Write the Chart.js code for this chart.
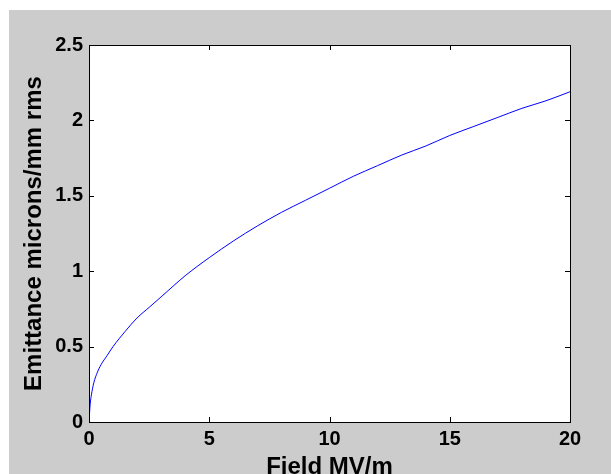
<!DOCTYPE html>
<html>
<head>
<meta charset="utf-8">
<script src="https://cdn.jsdelivr.net/npm/chart.js@4"></script>
<style>
    html, body { margin: 0; padding: 0; background: #ffffff; }
    #wrap { width: 611px; height: 474px; }
</style>
</head>
<body>
<div id="wrap"><canvas id="emittance-canvas" width="611" height="474"></canvas></div>
<script>
// field values (MV/m) and emittance
const field     = [0, 0.05, 0.1, 0.2, 0.35, 0.5, 0.75, 1, 1.5, 2, 2.5, 3, 4, 5, 6, 7, 8, 9, 10, 11, 12, 13, 14, 15, 16, 17, 18, 19, 20];
const emittance = [0, 0.12, 0.18, 0.26, 0.33, 0.38, 0.44, 0.50, 0.60, 0.69, 0.76, 0.83, 0.97, 1.09, 1.20, 1.30, 1.39, 1.47, 1.55, 1.63, 1.70, 1.77, 1.83, 1.90, 1.96, 2.02, 2.08, 2.13, 2.19];
const x_ticks   = [0, 5, 10, 15, 20];
const y_ticks   = [0, 0.5, 1, 1.5, 2, 2.5];

const points = field.map(function (f, i) { return { x: f, y: emittance[i] }; });

const tick_font  = { family: "'Liberation Sans', Arial, sans-serif", size: 20, weight: "bold" };
const title_font = { family: "'Liberation Sans', Arial, sans-serif", size: 24, weight: "bold", lineHeight: 1 };

// gray figure, white axes
const backgroundPlugin = {
    id: "matlabBackground",
    beforeDraw: function (chart) {
        const ctx = chart.ctx;
        const a = chart.chartArea;
        ctx.save();
        ctx.fillStyle = "#ffffff";
        ctx.fillRect(0, 0, chart.width, chart.height);
        ctx.fillStyle = "#cccccc";
        ctx.fillRect(9, 10, chart.width - 9, chart.height - 10);
        ctx.fillStyle = "#ffffff";
        ctx.fillRect(a.left, a.top, a.right - a.left, a.bottom - a.top);
        ctx.restore();
    }
};

// box and inward ticks on all four sides
const boxPlugin = {
    id: "matlabBox",
    afterDraw: function (chart) {
        const ctx = chart.ctx;
        const a = chart.chartArea;
        const xs = chart.scales.x;
        const ys = chart.scales.y;
        const len = 5;
        ctx.save();
        ctx.strokeStyle = "#000000";
        ctx.lineWidth = 1;
        ctx.beginPath();
        x_ticks.forEach(function (v) {
            const px = Math.round(xs.getPixelForValue(v)) + 0.5;
            ctx.moveTo(px, a.bottom); ctx.lineTo(px, a.bottom - len);
            ctx.moveTo(px, a.top); ctx.lineTo(px, a.top + len);
        });
        y_ticks.forEach(function (v) {
            const py = Math.round(ys.getPixelForValue(v)) + 0.5;
            ctx.moveTo(a.left, py); ctx.lineTo(a.left + len, py);
            ctx.moveTo(a.right, py); ctx.lineTo(a.right - len, py);
        });
        ctx.stroke();
        ctx.strokeRect(Math.round(a.left) + 0.5, Math.round(a.top) + 0.5,
            Math.round(a.right - a.left), Math.round(a.bottom - a.top));
        ctx.restore();
    }
};

function plainLabel(value) {
    return String(value);
}

const ctx = document.getElementById("emittance-canvas").getContext("2d");
const emittance_chart = new Chart(ctx, {
    type: "line",
    data: {
        datasets: [{
            data: points,
            borderColor: "#0000ff",
            borderWidth: 1,
            pointRadius: 0,
            fill: false,
            cubicInterpolationMode: "monotone"
        }]
    },
    options: {
        responsive: false,
        animation: false,
        plugins: { legend: { display: false }, tooltip: { enabled: false } },
        layout: { padding: { left: 0, top: 45, right: 41, bottom: 0 } },
        scales: {
            x: {
                type: "linear",
                min: 0,
                max: 20,
                afterBuildTicks: function (scale) { scale.ticks = x_ticks.map(function (v) { return { value: v }; }); },
                afterFit: function (scale) { scale.height = 52; },
                grid: { display: false, drawTicks: false },
                border: { display: false },
                ticks: { color: "#000000", font: tick_font, padding: 5, maxRotation: 0, callback: plainLabel },
                title: { display: true, text: "Field MV/m", color: "#000000", font: title_font, padding: { top: 0, bottom: -5 } }
            },
            y: {
                type: "linear",
                min: 0,
                max: 2.5,
                afterBuildTicks: function (scale) { scale.ticks = y_ticks.map(function (v) { return { value: v }; }); },
                afterFit: function (scale) { scale.width = 89; },
                grid: { display: false, drawTicks: false },
                border: { display: false },
                ticks: { color: "#000000", font: tick_font, padding: 6, callback: plainLabel },
                title: { display: true, text: "Emittance microns/mm rms", color: "#000000", font: title_font, padding: { top: 22, bottom: 0 } }
            }
        }
    },
    plugins: [backgroundPlugin, boxPlugin]
});
</script>
</body>
</html>
